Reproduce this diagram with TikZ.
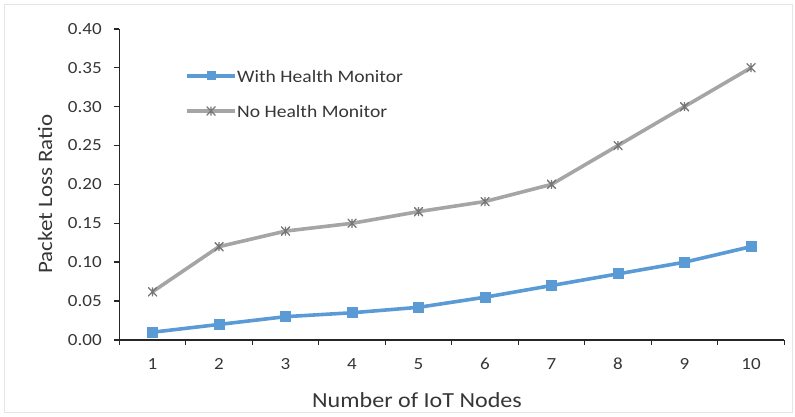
\documentclass[tikz,border=0pt]{standalone}
\usepackage{fontspec}
\setmainfont{Carlito}[FakeStretch=1.12]
\usetikzlibrary{positioning,calc}
\definecolor{wblue}{HTML}{5B9BD5}
\definecolor{ngray}{HTML}{A5A5A5}
\definecolor{nmark}{HTML}{767676}
\definecolor{txt}{HTML}{363636}

\begin{document}
\begin{tikzpicture}[x=1pt,y=1pt,every node/.style={text=txt},
  sq/.style={fill=wblue,inner sep=0pt,minimum size=11pt},
  ast/.style={inner sep=0pt,minimum size=9pt,path picture={
    \draw[nmark,line width=1.3pt] (path picture bounding box.north west)--(path picture bounding box.south east)
      (path picture bounding box.south west)--(path picture bounding box.north east)
      (path picture bounding box.north)--(path picture bounding box.south);}},
  wline/.style={wblue,line width=3.6pt,line join=round},
  nline/.style={ngray,line width=3.6pt,line join=round},
  axisline/.style={black!85,line width=1.4pt},
  ticklab/.style={font=\fontsize{17}{20}\selectfont},
  leglab/.style={font=\fontsize{17.5}{20}\selectfont,anchor=west,inner sep=1pt},
  axtitle/.style={font=\fontsize{20.5}{24}\selectfont}]
  \useasboundingbox (0,0) rectangle (795,416);
  \draw[black!10] (4,4) rectangle (792,412);

  \begin{scope}[shift={(86pt,76pt)},x=66.5pt,y=778pt]
  % axes
  \draw[axisline](0.5,0.4)--(0.5,0)--(10.5,0);
  \foreach \v in {0.00,0.05,0.10,0.15,0.20,0.25,0.30,0.35,0.40}{
    \draw[axisline](0.5,\v)--++(-5pt,0);
    \node[ticklab,anchor=east] (y\v) at ([xshift=-14pt]0.5,\v) {\v};
  }
  \foreach \i in {0,...,10}{
    \draw[axisline](\i+0.5,0)--++(0,-5pt);
  }
  \foreach \i in {1,...,10}{
    \node[ticklab] (x\i) at ([yshift=-24pt]\i,0) {\i};
  }

  % with health monitor
  \coordinate (w1) at (1,0.010);
  \coordinate (w2) at (2,0.020);
  \coordinate (w3) at (3,0.030);
  \coordinate (w4) at (4,0.035);
  \coordinate (w5) at (5,0.042);
  \coordinate (w6) at (6,0.055);
  \coordinate (w7) at (7,0.070);
  \coordinate (w8) at (8,0.085);
  \coordinate (w9) at (9,0.100);
  \coordinate (w10) at (10,0.120);

  % no health monitor
  \coordinate (n1) at (1,0.062);
  \coordinate (n2) at (2,0.120);
  \coordinate (n3) at (3,0.140);
  \coordinate (n4) at (4,0.150);
  \coordinate (n5) at (5,0.165);
  \coordinate (n6) at (6,0.178);
  \coordinate (n7) at (7,0.200);
  \coordinate (n8) at (8,0.250);
  \coordinate (n9) at (9,0.300);
  \coordinate (n10) at (10,0.350);
  \end{scope}

  \draw[nline](n1)--(n2)--(n3)--(n4)--(n5)--(n6)--(n7)--(n8)--(n9)--(n10);
  \foreach \i in {1,...,10}{\node[ast] (nm\i) at (n\i) {};}
  \draw[wline](w1)--(w2)--(w3)--(w4)--(w5)--(w6)--(w7)--(w8)--(w9)--(w10);
  \foreach \i in {1,...,10}{\node[sq] (wm\i) at (w\i) {};}

  % legend
  \coordinate (lwa) at (187,340);
  \coordinate (lwb) at (235,340);
  \coordinate (lna) at (187,305);
  \coordinate (lnb) at (235,305);
  \draw[wline](lwa)--(lwb);
  \node[sq,minimum size=9pt] (lwm) at ($(lwa)!0.5!(lwb)$) {};
  \node[leglab,right=1pt of lwb] (lwt) {With Health Monitor};
  \draw[nline](lna)--(lnb);
  \node[ast] (lnm) at ($(lna)!0.5!(lnb)$) {};
  \node[leglab,right=1pt of lnb] (lnt) {No Health Monitor};

  % axis titles
  \node[axtitle,rotate=90] (ytitle) at (45,222) {Packet Loss Ratio};
  \node[axtitle,font=\fontsize{21.5}{25}\selectfont] (xtitle) at (417,16) {Number of IoT Nodes};
\end{tikzpicture}
\end{document}
